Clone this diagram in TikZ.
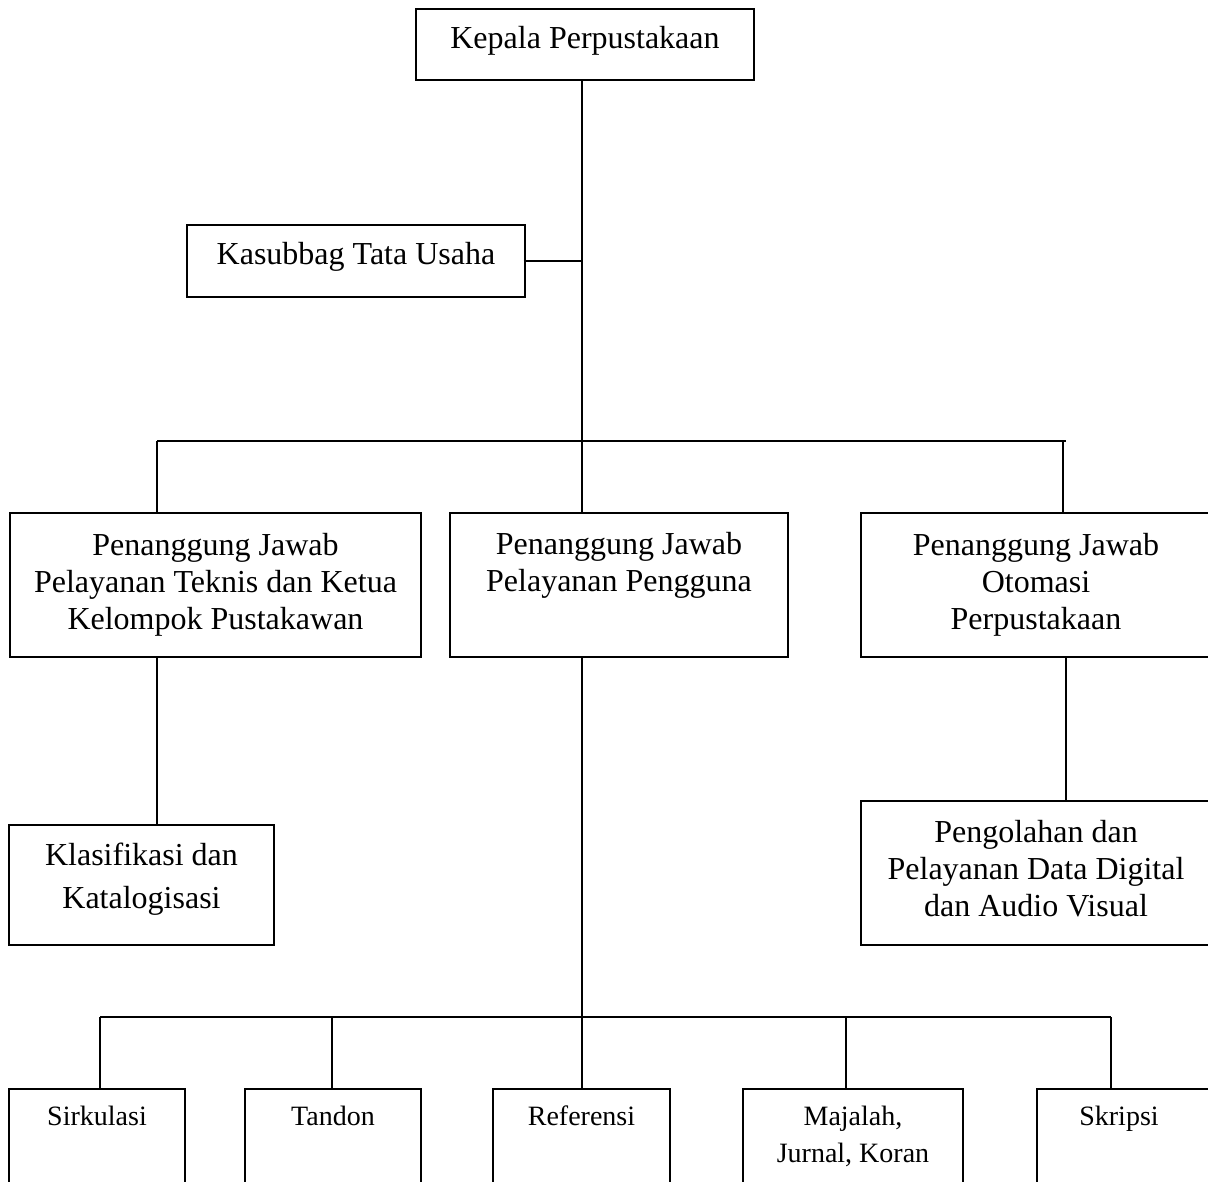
\documentclass[tikz,border=0pt]{standalone}
\usepackage{fontspec}
\setmainfont{Liberation Serif}
\newcommand{\stacklines}[1]{\begin{tabular}[t]{@{}c@{}}#1\end{tabular}}
\begin{document}
\begin{tikzpicture}[x=1pt,y=-1pt,
  orgbox/.style={draw, line width=1.3pt, rectangle, inner sep=0pt},
  bigtext/.style={anchor=base, inner sep=0pt, font=\fontsize{32}{37}\selectfont},
  smalltext/.style={anchor=base, inner sep=0pt, font=\fontsize{28}{37}\selectfont},
  link/.style={line width=1.3pt}]
\useasboundingbox (0,0) rectangle (1208,1182);
\clip (0,0) rectangle (1208,1182);

% boxes
\node[orgbox, minimum width=338pt, minimum height=71pt] (kepala) at (585,44.5) {};
\node[orgbox, minimum width=338pt, minimum height=72pt] (kasub) at (356,261) {};
\node[orgbox, minimum width=411pt, minimum height=144pt] (pj1) at (215.5,585) {};
\node[orgbox, minimum width=338pt, minimum height=144pt] (pj2) at (619,585) {};
\node[orgbox, minimum width=350pt, minimum height=144pt] (pj3) at (1036,585) {};
\node[orgbox, minimum width=265pt, minimum height=120pt] (klas) at (141.5,885) {};
\node[orgbox, minimum width=350pt, minimum height=144pt] (peng) at (1036,873) {};
\node[orgbox, minimum width=176pt, minimum height=160pt] (sirk) at (97,1169) {};
\node[orgbox, minimum width=176pt, minimum height=160pt] (tand) at (333,1169) {};
\node[orgbox, minimum width=177pt, minimum height=160pt] (refr) at (581.5,1169) {};
\node[orgbox, minimum width=220pt, minimum height=160pt] (maja) at (853,1169) {};
\node[orgbox, minimum width=173pt, minimum height=160pt] (skri) at (1123.5,1169) {};

% texts
\node[bigtext] (tkepala) at (585,49) {Kepala Perpustakaan};
\node[bigtext] (tkasub) at (356,265) {Kasubbag Tata Usaha};
\node[bigtext] (tpj1) at (215.5,555) {\stacklines{Penanggung Jawab\\Pelayanan Teknis dan Ketua\\Kelompok Pustakawan}};
\node[bigtext] (tpj2) at (619,554) {\stacklines{Penanggung Jawab\\Pelayanan Pengguna}};
\node[bigtext] (tpj3) at (1036,555) {\stacklines{Penanggung Jawab\\Otomasi\\Perpustakaan}};
\node[bigtext, font=\fontsize{32}{43}\selectfont] (tklas) at (141.5,865) {\stacklines{Klasifikasi dan\\Katalogisasi}};
\node[bigtext] (tpeng) at (1036,842) {\stacklines{Pengolahan dan\\Pelayanan Data Digital\\dan Audio Visual}};
\node[smalltext] (tsirk) at (97,1125) {Sirkulasi};
\node[smalltext] (ttand) at (333,1125) {Tandon};
\node[smalltext] (trefr) at (581.5,1125) {Referensi};
\node[smalltext] (tmaja) at (853,1125) {\stacklines{Majalah,\\Jurnal, Koran}};
\node[smalltext] (tskri) at (1119,1125) {Skripsi};

% junction coordinates
\coordinate (j1) at (582,441);
\coordinate (bl) at (157,441);
\coordinate (br) at (1066,441);
\coordinate (rv) at (1063,441);
\coordinate (j2) at (582,1017);
\coordinate (b1) at (100,1017);
\coordinate (b2) at (332,1017);
\coordinate (b4) at (846,1017);
\coordinate (b5) at (1111,1017);

% connectors
\draw[link] (kepala.south -| j1) -- (j1) -- (j1 |- pj2.north);
\draw[link] ([xshift=-2pt]kasub.east) -- (kasub.east -| j1);
\draw[link] (bl) -- (br);
\draw[link] (bl) -- (bl |- pj1.north);
\draw[link] (rv) -- (rv |- pj3.north);
\draw[link] (bl |- pj1.south) -- (bl |- klas.north);
\draw[link] (br |- pj3.south) -- (br |- peng.north);
\draw[link] (j1 |- pj2.south) -- (j2);
\draw[link] (b1) -- (b5);
\draw[link] (b1) -- (b1 |- sirk.north);
\draw[link] (b2) -- (b2 |- tand.north);
\draw[link] (j2) -- (j2 |- refr.north);
\draw[link] (b4) -- (b4 |- maja.north);
\draw[link] (b5) -- (b5 |- skri.north);
\end{tikzpicture}
\end{document}
